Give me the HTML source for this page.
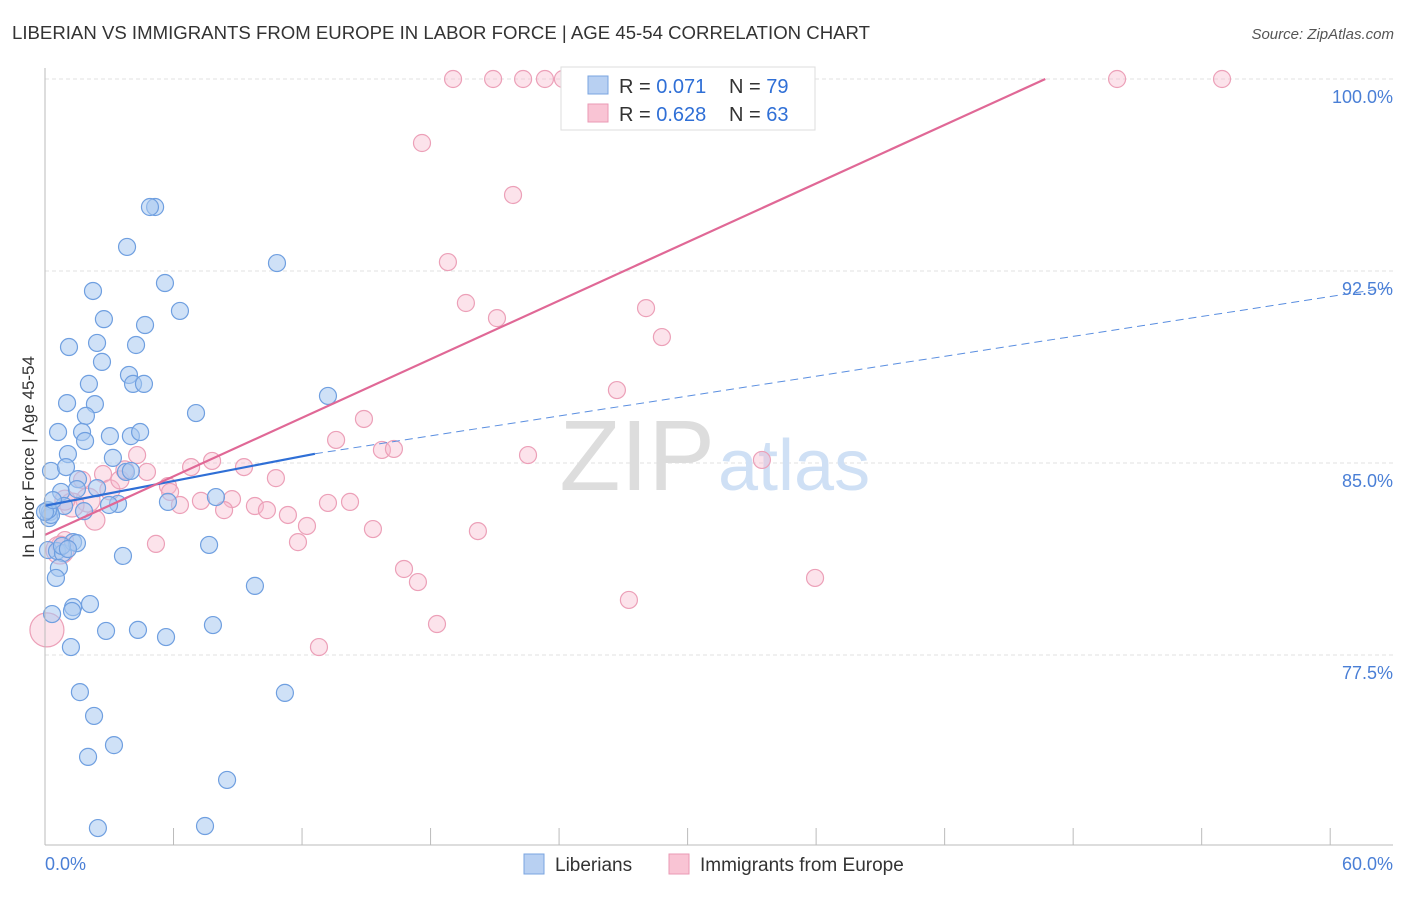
<!DOCTYPE html>
<html><head><meta charset="utf-8"><style>
body{margin:0;background:#fff;font-family:"Liberation Sans",sans-serif;}
svg text{font-family:"Liberation Sans",sans-serif;}
</style></head><body>
<svg width="1406" height="892" xmlns="http://www.w3.org/2000/svg">
<text x="12" y="39" font-size="18.6" fill="#333" textLength="858">LIBERIAN VS IMMIGRANTS FROM EUROPE IN LABOR FORCE | AGE 45-54 CORRELATION CHART</text>
<text x="1394" y="39" font-size="15" fill="#555" font-style="italic" text-anchor="end">Source: ZipAtlas.com</text>
<g id="grid"></g>
<text x="715" y="490" font-size="100" fill="#ddd" font-family="Liberation Serif" text-anchor="end">ZIP</text>
<text x="718" y="490" font-size="72" fill="#cfe0f5" text-anchor="start">atlas</text>
<g id="pts"></g>
<g id="lines"></g>
<g id="axes"></g>
<text transform="translate(34,457) rotate(-90)" font-size="17" fill="#333" text-anchor="middle">In Labor Force | Age 45-54</text>
<g>
<rect x="561" y="67" width="254" height="63" fill="#fff" stroke="#ddd"/>
<rect x="588" y="76" width="20" height="18" fill="#b8d0f2" stroke="#7aa4e0"/>
<rect x="588" y="104" width="20" height="18" fill="#f9c4d4" stroke="#ea9ab4"/>
<text x="619" y="93" font-size="20" fill="#333">R = <tspan fill="#2f6fd6">0.071</tspan></text>
<text x="729" y="93" font-size="20" fill="#333">N = <tspan fill="#2f6fd6">79</tspan></text>
<text x="619" y="121" font-size="20" fill="#333">R = <tspan fill="#2f6fd6">0.628</tspan></text>
<text x="729" y="121" font-size="20" fill="#333">N = <tspan fill="#2f6fd6">63</tspan></text>
</g>
<g>
<rect x="524" y="854" width="20" height="20" fill="#b8d0f2" stroke="#7aa4e0"/>
<text x="555" y="871" font-size="19" fill="#333">Liberians</text>
<rect x="669" y="854" width="20" height="20" fill="#f9c4d4" stroke="#ea9ab4"/>
<text x="700" y="871" font-size="19" fill="#333">Immigrants from Europe</text>
</g>
</svg>
<script>
const blueX=[5.14,4.90,3.83,10.83,5.60,2.24,6.30,2.75,4.67,1.12,2.43,4.25,2.66,3.92,2.05,4.11,4.62,13.21,1.03,2.33,7.05,1.91,0.61,1.73,3.03,4.01,4.44,1.87,1.07,3.17,0.28,0.98,3.78,4.01,1.54,2.43,0.75,1.49,5.74,7.98,0.89,3.41,2.99,1.82,0.23,0.19,0.28,0.14,0.56,0.84,1.31,1.49,7.66,3.64,0.65,0.51,9.80,1.31,2.10,1.26,0.33,2.85,4.34,5.65,7.84,1.21,1.63,11.20,2.29,3.22,2.01,8.50,2.47,7.47,0.14,0,0.37,0.79,1.07];
const blueY=[95.0,95.0,93.44,92.81,92.03,91.72,90.94,90.62,90.39,89.53,89.69,89.61,88.95,88.44,88.09,88.09,88.09,87.62,87.34,87.30,86.95,86.84,86.21,86.21,86.05,86.05,86.21,85.86,85.35,85.20,84.69,84.84,84.65,84.69,84.37,84.02,83.87,83.98,83.48,83.67,83.32,83.40,83.36,83.12,83.09,82.85,82.97,81.60,81.56,81.48,81.91,81.87,81.80,81.37,80.90,80.51,80.20,79.37,79.49,79.22,79.10,78.44,78.48,78.20,78.67,77.81,76.05,76.02,75.12,73.98,73.52,72.62,70.74,70.82,83.16,83.09,83.55,81.76,81.64];
const pinkX=[19.05,20.92,22.32,23.34,24.18,24.84,50.05,54.95,17.60,21.85,18.81,19.65,21.10,28.06,28.80,26.70,14.89,13.59,15.73,16.29,22.55,33.47,4.30,6.82,7.80,9.29,4.76,2.71,1.73,5.74,10.78,7.28,6.30,8.73,8.36,9.80,10.36,11.34,12.23,11.81,13.21,14.24,15.31,20.21,5.18,0.93,0.70,16.76,17.41,35.95,27.26,18.30,12.79,0.09,2.01,1.26,3.03,3.50,3.73,0.70,2.33,5.84,0.93];
const pinkY=[100,100,100,100,100,100,100,100,97.5,95.47,92.85,91.25,90.66,91.05,89.92,87.85,86.72,85.90,85.51,85.55,85.31,85.12,85.31,84.84,85.08,84.84,84.65,84.57,84.34,84.10,84.41,83.52,83.36,83.59,83.16,83.32,83.16,82.97,82.54,81.91,83.44,83.48,82.42,82.34,81.84,81.99,81.80,80.86,80.35,80.51,79.65,78.71,77.81,78.48,83.55,83.36,83.95,84.34,84.73,81.60,82.77,83.87,83.55];
const pinkR=[8.5,8.5,8.5,8.5,8.5,8.5,8.5,8.5,8.5,8.5,8.5,8.5,8.5,8.5,8.5,8.5,8.5,8.5,8.5,8.5,8.5,8.5,8.5,8.5,8.5,8.5,8.5,8.5,8.5,8.5,8.5,8.5,8.5,8.5,8.5,8.5,8.5,8.5,8.5,8.5,8.5,8.5,8.5,8.5,8.5,8.5,8.5,8.5,8.5,8.5,8.5,8.5,8.5,17,12,12,10,9,9,14,10,8.5,10];
const yTicks=[100,92.5,85,77.5];
const yTickLabels=["100.0%","92.5%","85.0%","77.5%"];
const xTicks=[0,6,12,18,24,30,36,42,48,54,60];
const blueLine=[[0,83.33],[12.6,85.36]];
const blueDash=[[12.6,85.36],[62.93,91.88]];
const pinkLine=[[0,82.19],[46.7,100]];
const NS="http://www.w3.org/2000/svg";
const X=v=>45+v*21.42, Y=v=>79+(100-v)*25.6;
function mk(t,a,p){const e=document.createElementNS(NS,t);for(const k in a)e.setAttribute(k,a[k]);p.appendChild(e);return e;}
const grid=document.getElementById('grid'),axes=document.getElementById('axes'),pts=document.getElementById('pts'),lines=document.getElementById('lines');
yTicks.forEach((v,i)=>{
 const l=mk('line',{x1:45,x2:1393,y1:Y(v),y2:Y(v),stroke:'#e2e2e2','stroke-dasharray':'4,3'},grid);
 
 
 const t=mk('text',{x:1393,y:Y(v)+24,'font-size':18,fill:'#4a7fd6','text-anchor':'end'},axes);
 t.textContent=yTickLabels[i];
 
 
});
mk('line',{x1:45,x2:45,y1:68,y2:845,stroke:'#bbb'},axes);
mk('line',{x1:45,x2:1393,y1:845,y2:845,stroke:'#bbb'},axes);
xTicks.forEach(v=>{const l=mk('line',{x1:X(v),x2:X(v),y1:828,y2:845,stroke:'#bbb'},axes);
 
 });
let t=mk('text',{x:45,y:870,'font-size':18,fill:'#4a7fd6'},axes);t.textContent='0.0%';


t=mk('text',{x:1393,y:870,'font-size':18,fill:'#4a7fd6','text-anchor':'end'},axes);t.textContent='60.0%';


pinkX.forEach((v,i)=>{const c=mk('circle',{cx:X(v),cy:Y(pinkY[i]),r:pinkR[i],fill:'rgba(247,184,204,0.4)',stroke:'#eca0b8','stroke-width':1.2},pts);
 
 });
blueX.forEach((v,i)=>{const c=mk('circle',{cx:X(v),cy:Y(blueY[i]),r:8.5,fill:'rgba(168,200,240,0.55)',stroke:'#6f9fe0','stroke-width':1.2},pts);
 
 });
let l=mk('line',{x1:X(blueDash[0][0]),y1:Y(blueDash[0][1]),x2:X(blueDash[1][0]),y2:Y(blueDash[1][1]),stroke:'#5a8ee0','stroke-dasharray':'8,5','stroke-width':1},lines);


l=mk('line',{x1:X(blueLine[0][0]),y1:Y(blueLine[0][1]),x2:X(blueLine[1][0]),y2:Y(blueLine[1][1]),stroke:'#2f6fd6','stroke-width':2.2},lines);


l=mk('line',{x1:X(pinkLine[0][0]),y1:Y(pinkLine[0][1]),x2:X(pinkLine[1][0]),y2:Y(pinkLine[1][1]),stroke:'#e06896','stroke-width':2.2},lines);


</script>
</body></html>
